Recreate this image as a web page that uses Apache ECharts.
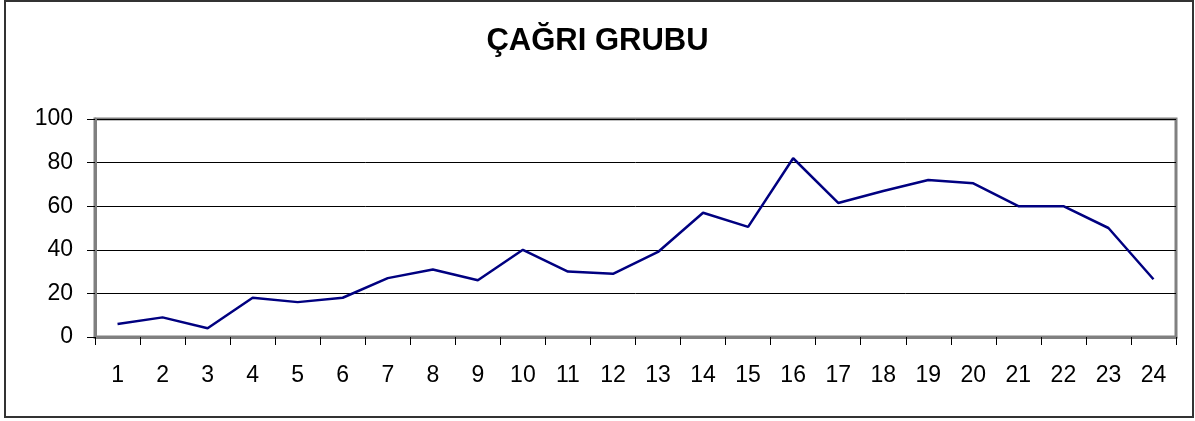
<!DOCTYPE html>
<html>
<head>
<meta charset="utf-8">
<script src="https://cdn.jsdelivr.net/npm/echarts@6/dist/echarts.min.js"></script>
<style>
html,body{margin:0;padding:0;background:#fff;}
#c{width:1195px;height:421px;}
</style>
</head>
<body>
<div id="c"></div>
<script>
const titleText = 'ÇAĞRI GRUBU';
const categories = ['1','2','3','4','5','6','7','8','9','10','11','12','13','14','15','16','17','18','19','20','21','22','23','24'];
const values = [6, 9, 4, 18, 16, 18, 27, 31, 26, 40, 30, 29, 39, 57, 50.5, 82, 61.5, 67, 72, 70.5, 60, 60, 50, 26.5];
const yMin = 0, yMax = 100, yStep = 20;

const chart = echarts.init(document.getElementById('c'), null, {renderer: 'canvas'});
const font = '"Liberation Sans", Arial, sans-serif';
chart.setOption({
  animation: false,
  backgroundColor: '#fff',
  title: {
    text: titleText,
    left: 'center',
    top: 21,
    textStyle: {fontFamily: font, fontSize: 31, fontWeight: 'bold', color: '#000'}
  },
  graphic: [{
    type: 'rect',
    shape: {x: 5, y: 1, width: 1188, height: 416},
    style: {fill: 'none', stroke: '#333', lineWidth: 2},
    silent: true
  }],
  grid: {
    left: 95, top: 119, width: 1081, height: 218,
    show: true, borderColor: '#808080', borderWidth: 3, backgroundColor: 'transparent'
  },
  xAxis: {
    type: 'category',
    data: categories,
    boundaryGap: true,
    axisLine: {lineStyle: {color: '#808080', width: 3}},
    axisTick: {show: true, alignWithLabel: false, length: 8, lineStyle: {color: '#000', width: 1}},
    axisLabel: {fontFamily: font, fontSize: 23, color: '#000', margin: 27, interval: 0},
    splitLine: {show: false}
  },
  yAxis: {
    type: 'value',
    min: yMin, max: yMax, interval: yStep,
    axisLine: {show: true, lineStyle: {color: '#808080', width: 3}},
    axisTick: {show: true, inside: false, length: 8, lineStyle: {color: '#000', width: 1}},
    axisLabel: {fontFamily: font, fontSize: 23, color: '#000', margin: 22},
    splitLine: {show: true, lineStyle: {color: '#000', width: 1}}
  },
  series: [{
    type: 'line',
    data: values,
    symbol: 'none',
    lineStyle: {color: '#000080', width: 2.5},
    itemStyle: {color: '#000080'}
  }]
});
</script>
</body>
</html>
